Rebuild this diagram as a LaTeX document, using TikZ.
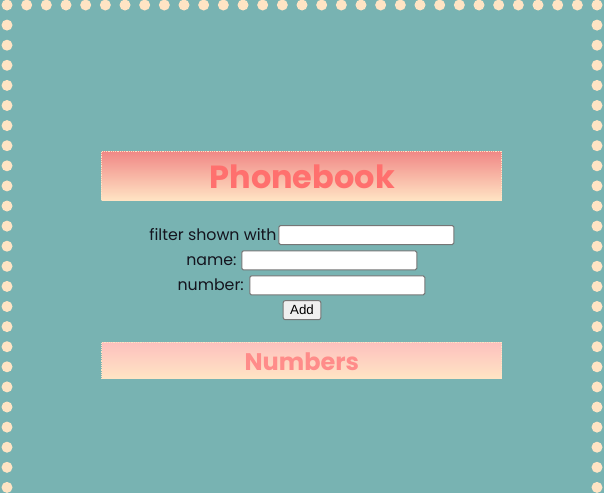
\documentclass[tikz,border=0pt]{standalone}
\usepackage{fontspec}
\setmainfont{Poppins}
\newfontfamily\btnfont{Liberation Sans}
\usetikzlibrary{positioning}

\definecolor{pageteal}{RGB}{120,179,178}
\definecolor{dotbisque}{RGB}{255,228,196}
\definecolor{headtop}{RGB}{240,136,134}
\definecolor{headtxt}{RGB}{255,112,110}
\definecolor{subtop}{RGB}{253,192,190}
\definecolor{subtxt}{RGB}{255,140,138}
\definecolor{fieldline}{RGB}{118,118,118}
\definecolor{btnfill}{RGB}{239,239,239}
\definecolor{lbltxt}{RGB}{20,20,30}

\tikzset{
  banner/.style={draw=dotbisque, densely dotted, line width=0.8pt, bottom color=dotbisque, inner sep=0pt, minimum width=400pt},
  field/.style={draw=fieldline, fill=white, line width=1pt, rounded corners=1.5pt, inner sep=0pt, minimum width=175pt, minimum height=19pt},
  lbl/.style={inner sep=0pt, font=\fontsize{15.8}{19}\selectfont, text=lbltxt, anchor=base east},
  btn/.style={draw=fieldline, fill=btnfill, line width=1pt, rounded corners=2pt, inner sep=0pt, minimum width=37.6pt, minimum height=19pt, font=\btnfont\fontsize{13.3}{15}\selectfont},
}

\begin{document}
\begin{tikzpicture}[x=1pt,y=-1pt]
\useasboundingbox (0,0) rectangle (604,493);
\fill[pageteal] (0,0) rectangle (604,493);

% dotted frame
\foreach \i in {0,...,30}
  \fill[dotbisque] (7+19.667*\i,5) circle (5.5pt);
\foreach \j in {1,...,24} {
  \fill[dotbisque] (7,5+20.1*\j) circle (5.5pt);
  \fill[dotbisque] (597,5+20.1*\j) circle (5.5pt);
}

% headings
\node[banner, top color=headtop, minimum height=49pt] (phonebook) at (301.7,175.85) {};
\node[inner sep=0pt, anchor=base, text=headtxt, font=\bfseries\fontsize{32}{36}\selectfont] (phonetitle) at ([xshift=0.5pt,yshift=-12.45pt]phonebook.center) {Phonebook};

\node[banner, top color=subtop, minimum height=36pt] (numbers) at (301.8,360.35) {};
\node[inner sep=0pt, anchor=base, text=subtxt, font=\bfseries\fontsize{24}{28}\selectfont] (numberstitle) at ([yshift=-9.65pt]numbers.center) {Numbers};

% form
\node[field] (filterin) at (366.3,235) {};
\node[lbl] (filterlbl) at ([xshift=-1.6pt,yshift=-5.7pt]filterin.west) {filter shown with};

\node[field] (namein) at (329.3,260.35) {};
\node[lbl] (namelbl) at ([xshift=-4.6pt,yshift=-5.35pt]namein.west) {name:};

\node[field] (numberin) at (337.3,285.35) {};
\node[lbl] (numberlbl) at ([xshift=-5.3pt,yshift=-5.35pt]numberin.west) {number:};

\node[btn] (addbtn) at (302,310.15) {Add};
\end{tikzpicture}
\end{document}
